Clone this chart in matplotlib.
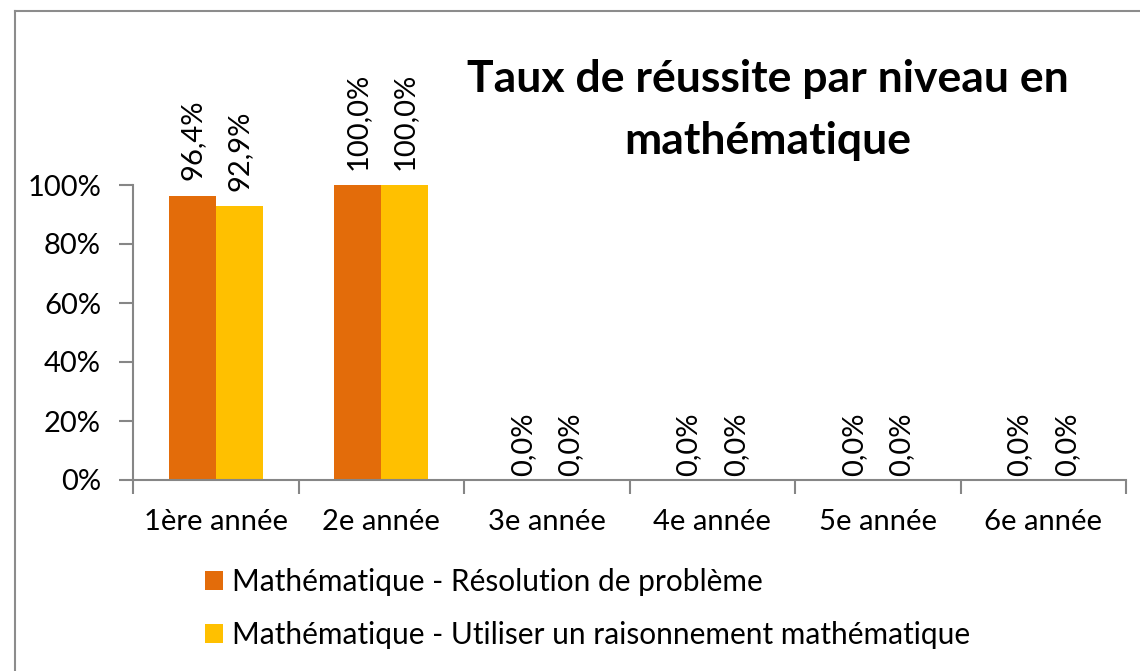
# taux de réussite - mathématique
import numpy as np
import matplotlib
matplotlib.use("Agg")
import matplotlib.pyplot as plt
from matplotlib.lines import Line2D

plt.rcParams['font.family'] = ['Lato', 'DejaVu Sans']

niveaux = ['1ère année', '2e année', '3e année', '4e année', '5e année', '6e année']
resolution = [96.4, 100.0, 0.0, 0.0, 0.0, 0.0]
raisonnement = [92.9, 100.0, 0.0, 0.0, 0.0, 0.0]
series = ['Mathématique - Résolution de problème',
          'Mathématique - Utiliser un raisonnement mathématique']
couleurs = ['#E36C0A', '#FFC000']
titre = 'Taux de réussite par niveau en\nmathématique'

taille = 21
gris = '#868686'

fig = plt.figure(figsize=(11.4, 6.71), dpi=100)
ax = fig.add_axes([133 / 1140, 1 - 480 / 671, (1126 - 133) / 1140, (480 - 185) / 671])

x = np.arange(len(niveaux))
w = 0.285
b1 = ax.bar(x - w / 2, np.array(resolution) / 100, w, color=couleurs[0], label=series[0])
b2 = ax.bar(x + w / 2, np.array(raisonnement) / 100, w, color=couleurs[1], label=series[1])

# étiquettes des valeurs, verticales
for barres, vals in ((b1, resolution), (b2, raisonnement)):
    for r, v in zip(barres, vals):
        dy = 11 if v > 0 else 3
        ax.annotate(f'{v:.1f}%'.replace('.', ','),
                    (r.get_x() + r.get_width() / 2, r.get_height()),
                    xytext=(0, dy), textcoords='offset points',
                    rotation=90, ha='center', va='bottom', size=taille)

ax.set_xlim(-0.5, len(niveaux) - 0.5)
ax.set_ylim(0, 1)
ax.set_yticks(np.linspace(0, 1, 6))
ax.set_yticklabels([f'{int(round(t * 100))}%' for t in np.linspace(0, 1, 6)], size=taille)
ax.set_xticks(x)
ax.set_xticklabels(niveaux, size=taille)
ax.set_xticks(np.arange(-0.5, len(niveaux)), minor=True)
ax.tick_params(axis='x', which='major', length=0, pad=21)
ax.tick_params(axis='x', which='minor', length=10, width=1.5, color=gris)
ax.tick_params(axis='y', length=10, width=1.5, color=gris, pad=13)

for s in ['top', 'right']:
    ax.spines[s].set_visible(False)
for s in ['left', 'bottom']:
    ax.spines[s].set_color(gris)
    ax.spines[s].set_linewidth(1.5)

fig.text(768 / 1140, 1 - 110 / 671, titre, ha='center', va='center',
         size=32, fontweight='bold', linespacing=1.65)

fig.legend(loc='upper left', bbox_to_anchor=(205 / 1140, 1 - 568 / 671),
           frameon=False, fontsize=21.5, handlelength=0.6, handleheight=0.6,
           handletextpad=0.3, labelspacing=0.85, borderpad=0, borderaxespad=0)

# cadre du graphique (haut et gauche seulement)
fig.add_artist(Line2D([15 / 1140, 1], [1 - 11 / 671, 1 - 11 / 671],
                      transform=fig.transFigure, color='#8c8c8c', lw=1.5))
fig.add_artist(Line2D([15 / 1140, 15 / 1140], [0, 1 - 11 / 671],
                      transform=fig.transFigure, color='#8c8c8c', lw=1.5))

fig.savefig('out.png', dpi=100)
